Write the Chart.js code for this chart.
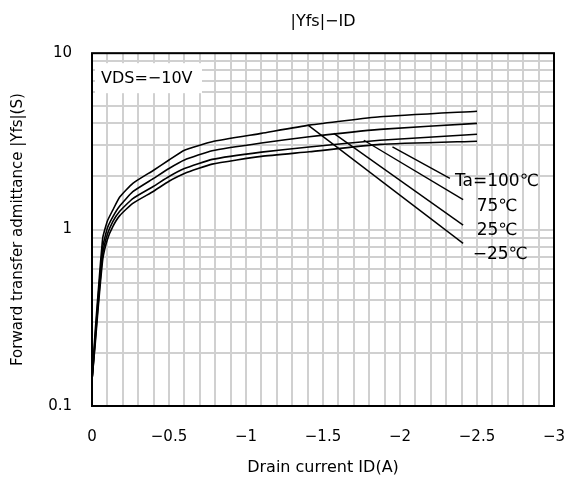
<!DOCTYPE html>
<html>
<head>
<meta charset="utf-8">
<script src="https://cdn.jsdelivr.net/npm/chart.js@4/dist/chart.umd.min.js"></script>
<style>
    body { margin: 0; background: #fff; }
</style>
</head>
<body>
<canvas id="chart" width="565" height="481"></canvas>
<script>
// Drain current (A) and |Yfs| (S)
const drainCurrent = [0, -0.02, -0.04, -0.07, -0.1, -0.135, -0.18, -0.265, -0.4, -0.5, -0.6, -0.78, -1.1, -1.41, -1.87, -2.5];
const yfsMinus25 = [0.14, 0.26, 0.44, 0.90, 1.12, 1.29, 1.53, 1.83, 2.17, 2.48, 2.82, 3.15, 3.51, 3.91, 4.36, 4.69];
const yfs25 = [0.14, 0.24, 0.41, 0.80, 1.02, 1.18, 1.36, 1.64, 1.95, 2.22, 2.48, 2.80, 3.10, 3.36, 3.70, 4.00];
const yfs75 = [0.14, 0.23, 0.38, 0.73, 0.94, 1.11, 1.27, 1.50, 1.76, 2.00, 2.22, 2.50, 2.75, 2.94, 3.21, 3.47];
const yfs100 = [0.14, 0.22, 0.36, 0.68, 0.88, 1.04, 1.20, 1.41, 1.65, 1.88, 2.08, 2.35, 2.60, 2.76, 3.04, 3.17];

// temperature labels and their leader lines (data coordinates)
const tempLabels = ['−25℃', '25℃', '75℃', 'Ta=100℃'];
const leaderFromX = [-1.403, -1.57, -1.765, -1.951];
const leaderFromY = [3.91, 3.51, 3.21, 2.94];
const leaderToX = [-2.41, -2.41, -2.41, -2.324];
const leaderToY = [0.835, 1.06, 1.48, 1.95];
const labelX = [-2.472, -2.498, -2.498, -2.357];
const labelY = [0.72, 0.99, 1.35, 1.87];

const xTickLabels = [0, -0.5, -1, -1.5, -2, -2.5, -3];
const yTickLabels = [0.1, 1, 10];

const FONT = '"DejaVu Sans", sans-serif';

const toPoints = (xs, ys) => xs.map((x, i) => ({ x, y: ys[i] }));

const curves = [yfsMinus25, yfs25, yfs75, yfs100].map(values => ({
    data: toPoints(drainCurrent, values),
    borderColor: '#000',
    borderWidth: 1.6,
    pointRadius: 0,
    tension: 0.15,
    fill: false
}));

const leaders = tempLabels.map((label, i) => ({
    data: [{ x: leaderFromX[i], y: leaderFromY[i] }, { x: leaderToX[i], y: leaderToY[i] }],
    borderColor: '#000',
    borderWidth: 1.4,
    pointRadius: 0,
    tension: 0,
    fill: false
}));

// minor grid: every 0.1 A on x, 1..9 per decade on y
const xGrid = [];
for (let i = 0; i <= 30; i++) xGrid.push(-i / 10);
const yGrid = [];
[0.1, 1].forEach(d => { for (let k = 1; k <= 9; k++) yGrid.push(+(k * d).toFixed(2)); });
yGrid.push(10);

const annotations = {
    id: 'annotations',
    beforeDatasetsDraw(chart) {
        const { ctx, chartArea } = chart;
        ctx.save();
        ctx.fillStyle = '#fff';
        ctx.fillRect(chartArea.left + 3, chartArea.top + 10, 107, 30);
        ctx.fillStyle = '#000';
        ctx.font = '16px ' + FONT;
        ctx.textBaseline = 'middle';
        ctx.fillText('VDS=−10V', chartArea.left + 9, chartArea.top + 25.5);
        ctx.restore();
    },
    afterDatasetsDraw(chart) {
        const { ctx, chartArea, scales } = chart;
        ctx.save();
        ctx.fillStyle = '#000';
        ctx.font = '17px ' + FONT;
        ctx.textBaseline = 'middle';
        ctx.textAlign = 'left';
        tempLabels.forEach((label, i) => {
            ctx.fillText(label, scales.x.getPixelForValue(labelX[i]), scales.y.getPixelForValue(labelY[i]));
        });
        ctx.strokeStyle = '#000';
        ctx.lineWidth = 2;
        ctx.strokeRect(chartArea.left, chartArea.top, chartArea.right - chartArea.left, chartArea.bottom - chartArea.top);
        ctx.restore();
    }
};

new Chart(document.getElementById('chart'), {
    type: 'line',
    data: { datasets: [...curves, ...leaders] },
    plugins: [annotations],
    options: {
        responsive: false,
        animation: false,
        layout: { padding: { left: 0, right: 11, top: 0, bottom: 0 } },
        plugins: {
            legend: { display: false },
            tooltip: { enabled: false },
            title: {
                display: true,
                text: '|Yfs|−ID',
                fullSize: false,
                color: '#000',
                font: { family: FONT, size: 16, weight: 'normal' },
                padding: { top: 12, bottom: 22 }
            }
        },
        scales: {
            x: {
                type: 'linear',
                min: -3,
                max: 0,
                reverse: true,
                afterBuildTicks: scale => { scale.ticks = xGrid.map(value => ({ value })); },
                afterFit: scale => {
                    scale.height = 75;
                    scale.paddingLeft = 0;
                    scale.paddingRight = 0;
                },
                ticks: {
                    autoSkip: false,
                    maxRotation: 0,
                    padding: 22,
                    color: '#000',
                    font: { family: FONT, size: 15 },
                    callback: value => {
                        const hit = xTickLabels.find(t => Math.abs(t - value) < 1e-6);
                        if (hit === undefined) return '';
                        return hit === 0 ? '0' : '−' + Math.abs(hit);
                    }
                },
                grid: { color: '#d0d0d0', lineWidth: 2, drawTicks: false },
                border: { display: false },
                title: {
                    display: true,
                    text: 'Drain current ID(A)',
                    color: '#000',
                    font: { family: FONT, size: 16 },
                    padding: { top: 0, bottom: 4 }
                }
            },
            y: {
                type: 'logarithmic',
                min: 0.1,
                max: 10,
                afterBuildTicks: scale => { scale.ticks = yGrid.map(value => ({ value })); },
                afterFit: scale => {
                    scale.width = 92;
                    scale.paddingTop = 0;
                    scale.paddingBottom = 0;
                },
                ticks: {
                    autoSkip: false,
                    padding: 20,
                    color: '#000',
                    font: { family: FONT, size: 15 },
                    callback: value => {
                        const hit = yTickLabels.find(t => Math.abs(t - value) < 1e-6);
                        return hit === undefined ? '' : String(hit);
                    }
                },
                grid: { color: '#d0d0d0', lineWidth: 2, drawTicks: false },
                border: { display: false },
                title: {
                    display: true,
                    text: 'Forward transfer admittance |Yfs|(S)',
                    color: '#000',
                    font: { family: FONT, size: 15 },
                    padding: { top: 9, bottom: 0 }
                }
            }
        }
    }
});
</script>
</body>
</html>
